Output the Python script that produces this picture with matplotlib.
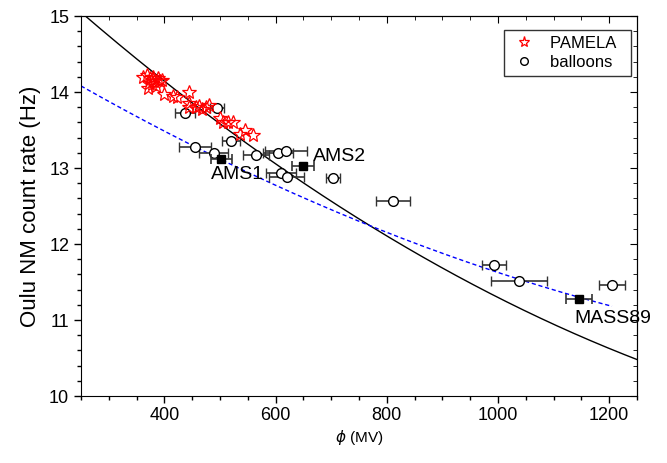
import numpy as np
import matplotlib
matplotlib.use("Agg")
import matplotlib.pyplot as plt
from matplotlib.ticker import MultipleLocator
from matplotlib.lines import Line2D

plt.rcParams['font.family'] = ['Liberation Sans', 'DejaVu Sans']

# PAMELA data (phi in MV, Oulu NM rate in Hz)
pamela_phi = [362, 368, 372, 375, 378, 382, 385, 388, 392, 396, 370, 380,
              400, 415, 422, 444, 445, 444, 457, 462, 468, 475, 480,
              500, 506, 515, 523, 536, 545, 559]
pamela_rate = [14.20, 14.22, 14.12, 14.18, 14.10, 14.15, 14.08, 14.18, 14.14, 14.16, 14.05, 14.20,
               13.97, 13.95, 13.93, 14.00, 13.86, 13.80, 13.80, 13.82, 13.78, 13.80, 13.83,
               13.66, 13.61, 13.60, 13.61, 13.45, 13.50, 13.44]

# Balloon data (open circles)
balloon_phi = [437, 495, 520, 455, 489, 565, 604, 619, 610, 620, 703, 811, 993, 1038, 1205]
balloon_rate = [13.72, 13.79, 13.36, 13.28, 13.20, 13.17, 13.20, 13.22, 12.93, 12.88, 12.87, 12.57, 11.73, 11.51, 11.46]
balloon_err = [18, 13, 16, 29, 26, 24, 27, 38, 27, 31, 12, 30, 22, 50, 23]

# Spacecraft data (filled squares)
sc_names = ['AMS1', 'AMS2', 'MASS89']
sc_phi = [502, 649, 1146]
sc_rate = [13.12, 13.02, 11.27]
sc_err = [19, 20, 23]

# Fit curves (quadratic approximations in phi)
black_coef = [15.05, -0.0063075, 1.7375e-6]   # about phi0 = 250
blue_coef = [14.08, -0.004138, 1.154e-6]      # about phi0 = 250

fig = plt.figure(figsize=(6.67, 4.63), dpi=100)
ax = fig.add_axes([0.1214, 0.1447, 0.8336, 0.8207])

u = np.linspace(250, 1250, 300)
ax.plot(u, black_coef[0] + black_coef[1]*(u-250) + black_coef[2]*(u-250)**2,
        color='black', lw=1.0, zorder=2)
ub = np.linspace(250, 1205, 300)
ax.plot(ub, blue_coef[0] + blue_coef[1]*(ub-250) + blue_coef[2]*(ub-250)**2,
        color='blue', lw=1.0, ls=(0, (3, 2)), zorder=2)

ax.errorbar(balloon_phi, balloon_rate, xerr=balloon_err, fmt='o', ms=7,
            mfc='white', mec='black', mew=1.0, ecolor='#333333', elinewidth=1.2,
            capsize=3.5, capthick=1.2, zorder=4)
ax.errorbar(sc_phi, sc_rate, xerr=sc_err, fmt='s', ms=5.5,
            mfc='black', mec='black', ecolor='#333333', elinewidth=1.2,
            capsize=3.5, capthick=1.2, zorder=5)
ax.plot(pamela_phi, pamela_rate, ls='none', marker='*', ms=10.5, mfc='none',
        mec='red', mew=0.9, zorder=6)

label_offsets = {'AMS1': (12, -11), 'AMS2': (7, 7), 'MASS89': (24, -14)}
for name, x, y in zip(sc_names, sc_phi, sc_rate):
    dx, dy = label_offsets[name]
    ax.annotate(name, (x, y), xytext=(dx, dy), textcoords='offset points',
                fontsize=14, ha='left' if name == 'AMS2' else 'center', va='center')

ax.set_xlim(250, 1250)
ax.set_ylim(10, 15)
ax.xaxis.set_major_locator(MultipleLocator(200))
ax.xaxis.set_minor_locator(MultipleLocator(50))
ax.yaxis.set_major_locator(MultipleLocator(1))
ax.yaxis.set_minor_locator(MultipleLocator(0.2))
ax.tick_params(which='both', direction='out', top=False, right=False, labelsize=13)
ax.tick_params(which='major', length=5, width=1)
ax.tick_params(which='minor', length=3, width=1)
ax.tick_params(axis='x', pad=3)

secx = ax.secondary_xaxis('top')
secx.xaxis.set_major_locator(MultipleLocator(200))
secx.xaxis.set_minor_locator(MultipleLocator(50))
secx.tick_params(which='both', direction='in', labeltop=False)
secx.tick_params(which='major', length=5)
secx.tick_params(which='minor', length=3)
secy = ax.secondary_yaxis('right')
secy.yaxis.set_major_locator(MultipleLocator(1))
secy.yaxis.set_minor_locator(MultipleLocator(0.2))
secy.tick_params(which='both', direction='in', labelright=False)
secy.tick_params(which='major', length=5)
secy.tick_params(which='minor', length=3)

ax.set_ylabel('Oulu NM count rate (Hz)', fontsize=16, labelpad=6)
ax.set_xlabel(r'$\phi$ (MV)', fontsize=11, labelpad=3)

handles = [Line2D([], [], ls='none', marker='*', ms=8, mfc='none', mec='red', mew=0.9),
           Line2D([], [], ls='none', marker='o', ms=5.5, mfc='white', mec='black', mew=1.0)]
leg = ax.legend(handles, ['PAMELA  ', 'balloons  '], loc='upper right',
                bbox_to_anchor=(0.989, 0.963), borderaxespad=0, fontsize=12,
                frameon=True, fancybox=False, edgecolor='black', handlelength=1.6,
                handletextpad=0.8, borderpad=0.35, labelspacing=0.25)
leg.get_frame().set_linewidth(1.0)

fig.savefig('out.png', dpi=100)
